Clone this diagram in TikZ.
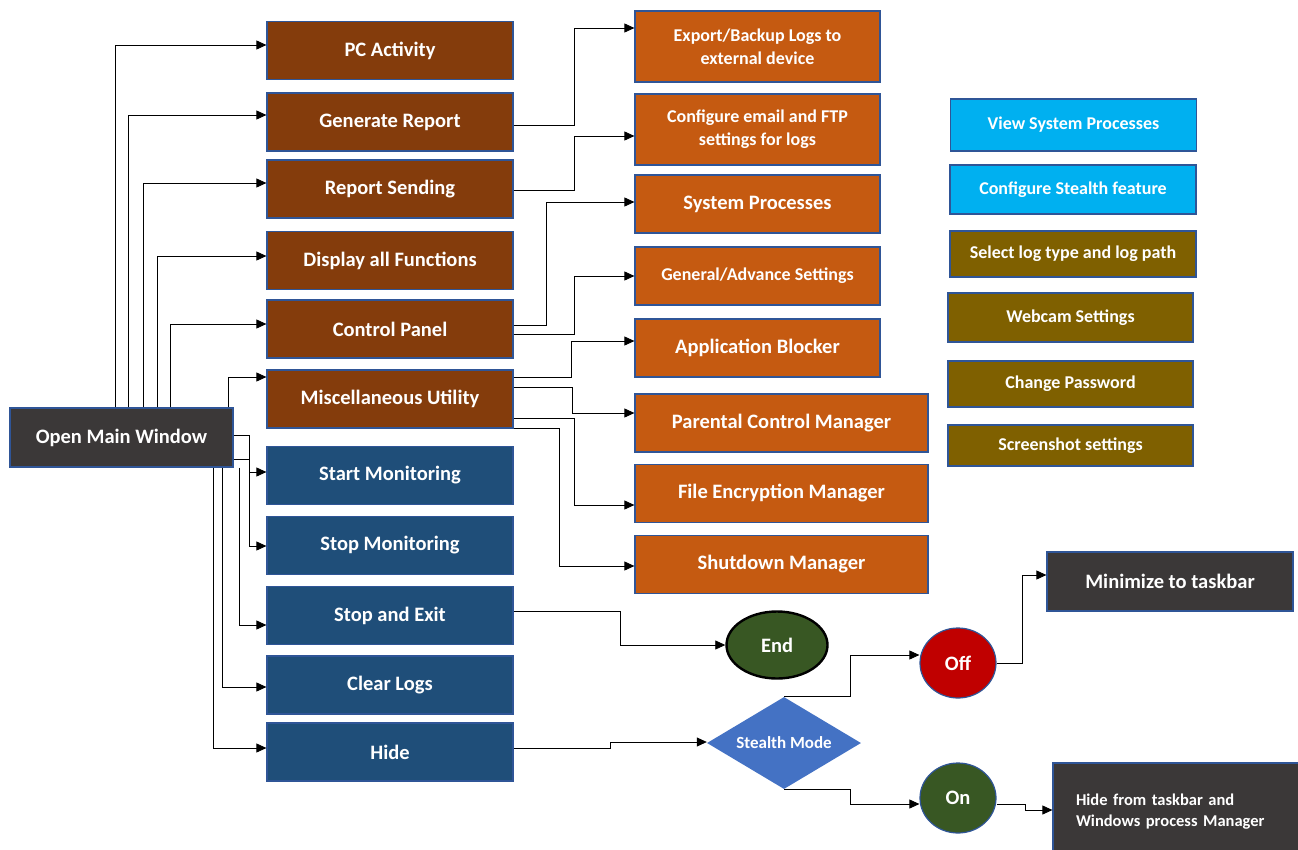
\documentclass[tikz,border=0pt]{standalone}
\usepackage{fontspec}
\setmainfont{Carlito}
\usetikzlibrary{arrows.meta,shapes.geometric}

\definecolor{brownbox}{HTML}{843C0C}
\definecolor{bluebox}{HTML}{1F4E79}
\definecolor{orangebox}{HTML}{C55A11}
\definecolor{cyanbox}{HTML}{00B0F0}
\definecolor{olivebox}{HTML}{7F6000}
\definecolor{darkbox}{HTML}{3B3838}
\definecolor{greenbox}{HTML}{385723}
\definecolor{redbox}{HTML}{C00000}
\definecolor{diabox}{HTML}{4472C4}
\definecolor{edge}{HTML}{2F5597}

\tikzset{
  box/.style={rectangle, draw=edge, line width=1.2pt, inner sep=0pt,
    text=white, font=\bfseries\fontsize{20.5}{24}\selectfont, align=center},
  menu/.style={box, fill=brownbox, minimum width=246, minimum height=58},
  action/.style={box, fill=bluebox, minimum width=246, minimum height=58},
  sub/.style={box, fill=orangebox, minimum width=245, minimum height=58},
  subw/.style={sub, minimum width=293},
  small/.style={font=\bfseries\fontsize{18}{23}\selectfont},
  info/.style={box, small, fill=cyanbox, minimum width=246},
  opt/.style={box, small, fill=olivebox, minimum width=245},
  term/.style={box, fill=darkbox},
  oval/.style={ellipse, draw=edge, line width=1.2pt, inner sep=0pt,
    text=white, font=\bfseries\fontsize{20.5}{24}\selectfont},
  arr/.style={-{Triangle[length=10pt,width=9pt]}, line width=0.8pt}
}

\begin{document}
\begin{tikzpicture}[x=1pt,y=-1pt]
  \useasboundingbox (0,0) rectangle (1298,849);

  % main window
  \node[term, minimum width=223, minimum height=59] (main) at (121.5,437.5) {Open Main Window};

  % first level menu
  \node[menu] (pc)   at (390,50.5)  {PC Activity};
  \node[menu] (gen)  at (390,122)   {Generate Report};
  \node[menu] (send) at (390,189)   {Report Sending};
  \node[menu] (disp) at (390,260.5) {Display all Functions};
  \node[menu] (ctrl) at (390,329)   {Control Panel};
  \node[menu] (misc) at (390,399)   {Miscellaneous Utility};

  \node[action] (start) at (390,475.5) {Start Monitoring};
  \node[action] (stop)  at (390,545.5) {Stop Monitoring};
  \node[action] (exit)  at (390,615.5) {Stop and Exit};
  \node[action] (clear) at (390,685)   {Clear Logs};
  \node[action] (hide)  at (390,752)   {Hide};

  % second level
  \node[sub, small, minimum height=71] (exp) at (757.5,46.5)  {Export/Backup Logs to\\external device};
  \node[sub, small, minimum height=71] (mail) at (757.5,129.5) {Configure email and FTP\\settings for logs};
  \node[sub] (proc) at (757.5,204) {System Processes};
  \node[sub, small] (gset) at (757.5,276) {General/Advance Settings};
  \node[sub] (block) at (757.5,348) {Application Blocker};
  \node[subw] (par)  at (781.5,423)   {Parental Control Manager};
  \node[subw] (enc)  at (781.5,493.5) {File Encryption Manager};
  \node[subw] (shut) at (781.5,564.5) {Shutdown Manager};

  % settings column
  \node[info, minimum height=52] (view) at (1073.5,125)  {View System Processes};
  \node[info, minimum height=49] (cfg)  at (1073,189.5)  {Configure Stealth feature};
  \node[opt, minimum width=246, minimum height=46] (logt) at (1073,254) {Select log type and log path};
  \node[opt, minimum height=49] (cam)  at (1070.5,317.5) {Webcam Settings};
  \node[opt, minimum height=46] (pwd)  at (1070.5,384)   {Change Password};
  \node[opt, minimum height=41] (shot) at (1070.5,445.5) {Screenshot settings};

  % exit and stealth
  \node[oval, fill=greenbox, draw=black, line width=2.4pt, minimum width=101, minimum height=67] (end) at (777,645) {End};
  \node[diamond, aspect=1.67, fill=diabox, inner sep=0pt, minimum width=154, minimum height=92,
    text=white, font=\bfseries\fontsize{17}{20}\selectfont] (stealth) at (784,743) {Stealth Mode};
  \node[oval, fill=redbox, minimum width=76, minimum height=70] (off) at (958,663) {Off};
  \node[oval, fill=greenbox, minimum width=76, minimum height=70] (on) at (958,798) {On};
  \node[term, minimum width=246, minimum height=59] (mini) at (1170,581.5) {Minimize to taskbar};
  \node[term, align=left, text width=211, minimum width=257, minimum height=97,
    font=\bfseries\fontsize{16.5}{21}\selectfont] (hidebar) at (1181.5,811.5)
    {Hide from taskbar and\\Windows process Manager};

  % main window to menus
  \draw[arr] (main.north -| 115,0) |- (pc.west |- 0,45);
  \draw[arr] (main.north -| 128,0) |- (gen.west |- 0,115);
  \draw[arr] (main.north -| 143,0) |- (send.west |- 0,183);
  \draw[arr] (main.north -| 157,0) |- (disp.west |- 0,256);
  \draw[arr] (main.north -| 170,0) |- (ctrl.west |- 0,324);
  \draw[arr] (main.north -| 228,0) |- (misc.west |- 0,377);
  \draw[arr] (main.east |- 0,435) -| (249,472) -- (start.west |- 0,472);
  \draw[arr] (main.east |- 0,459) -| (249,546) -- (stop.west |- 0,546);
  \draw[arr] (main.south -| 239,0) |- (exit.west |- 0,625);
  \draw[arr] (main.south -| 222,0) |- (clear.west |- 0,687);
  \draw[arr] (main.south -| 213,0) |- (hide.west |- 0,748);

  % menus to sub items
  \draw[arr] (gen.east |- 0,125) -| (574,28) -- (exp.west |- 0,28);
  \draw[arr] (send.east |- 0,190) -| (574,136) -- (mail.west |- 0,136);
  \draw[arr] (ctrl.east |- 0,325) -| (546,202) -- (proc.west |- 0,202);
  \draw[arr] (ctrl.east |- 0,334) -| (574,276) -- (gset.west |- 0,276);
  \draw[arr] (misc.east |- 0,377) -| (571,341) -- (block.west |- 0,341);
  \draw[arr] (misc.east |- 0,387) -| (572,413) -- (par.west |- 0,413);
  \draw[arr] (misc.east |- 0,418) -| (574,505) -- (enc.west |- 0,505);
  \draw[arr] (misc.east |- 0,428) -| (559,566) -- (shut.west |- 0,566);

  % exit and stealth flow
  \draw[arr] (exit.east |- 0,611) -| (620,645) -- (end.west);
  \draw[arr] (hide.east |- 0,748) -| (610,742) -- (stealth.west |- 0,742);
  \draw[arr] (stealth.north) -| (850,655) -- (off.west |- 0,655);
  \draw[arr] (stealth.south) -| (850,804) -- (on.west |- 0,804);
  \draw[arr] (off.east) -| (1022,575) -- (mini.west |- 0,575);
  \draw[arr] (on.east |- 0,804) -| (1025,810) -- (hidebar.west |- 0,810);
\end{tikzpicture}
\end{document}
